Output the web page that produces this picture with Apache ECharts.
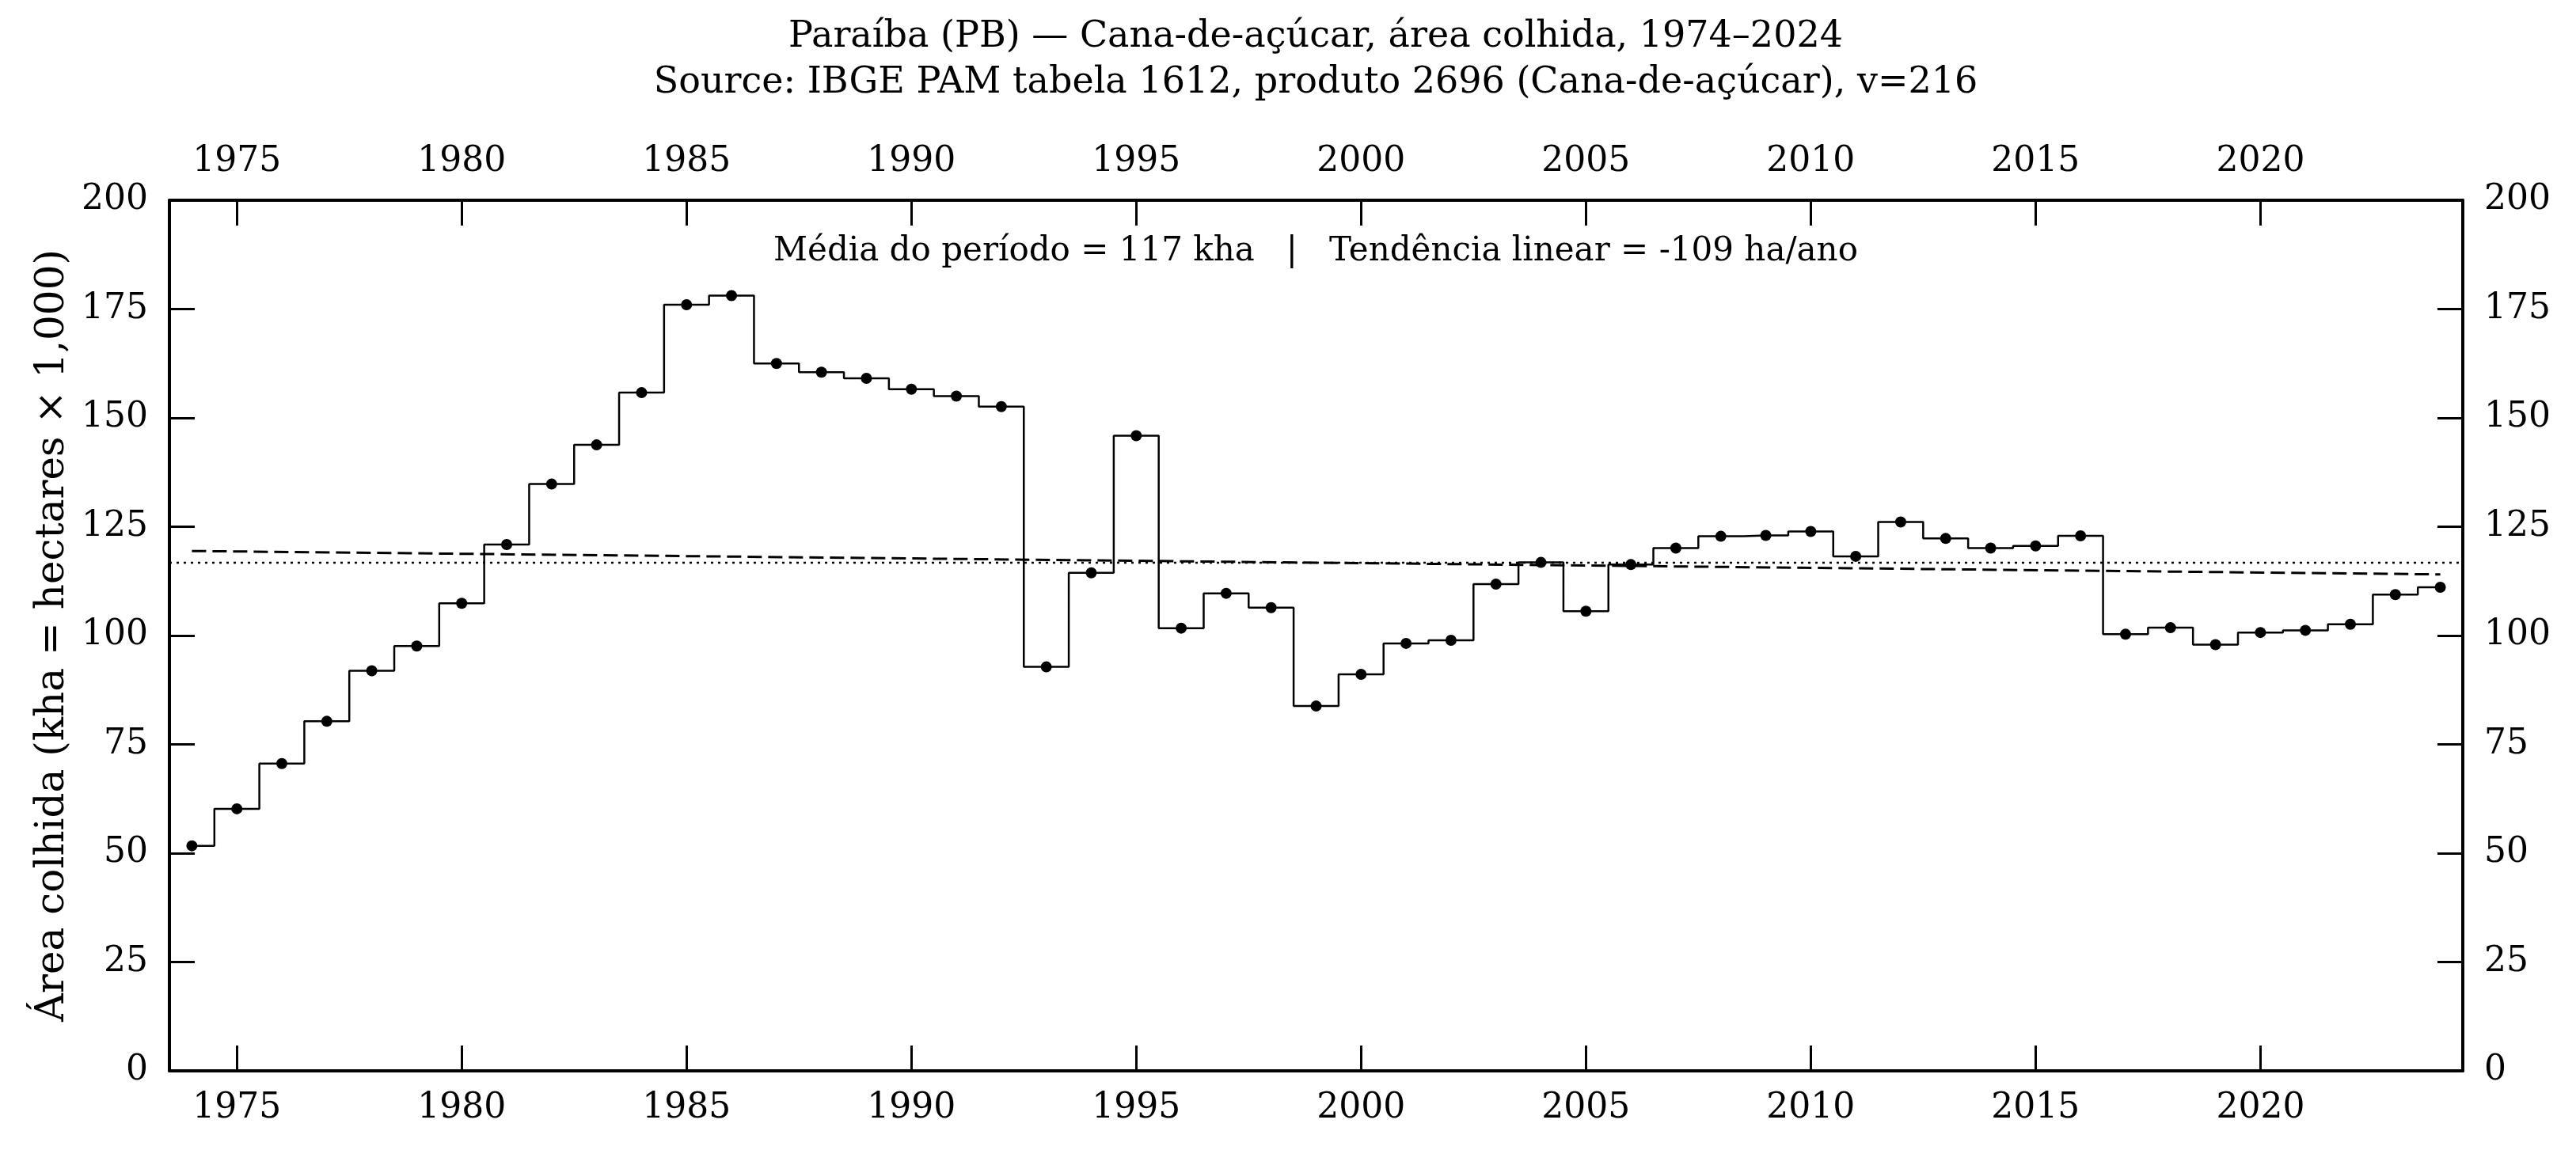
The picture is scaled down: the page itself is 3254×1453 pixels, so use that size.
<!DOCTYPE html>
<html>
<head>
<meta charset="utf-8">
<script src="https://cdn.jsdelivr.net/npm/echarts@6/dist/echarts.min.js"></script>
<style>
  html, body { margin: 0; padding: 0; background: #fff; }
  #chart { width: 3254px; height: 1453px; }
</style>
</head>
<body>
<div id="chart"></div>
<script>
// area harvested, thousand ha
const years = [];
for (let y = 1974; y <= 2024; y++) years.push(y);
const areaKha = [
  51.7, 60.2, 70.6, 80.3, 91.9, 97.6, 107.4, 120.9, 134.8, 143.8,
  155.8, 176.0, 178.1, 162.5, 160.5, 159.1, 156.6, 155.0, 152.6, 92.8,
  114.4, 145.9, 101.7, 109.7, 106.4, 83.8, 91.1, 98.2, 98.9, 111.8,
  116.8, 105.6, 116.3, 120.1, 122.8, 123.0, 123.9, 118.2, 126.1, 122.3,
  120.1, 120.6, 122.9, 100.3, 101.8, 97.9, 100.7, 101.2, 102.6, 109.4,
  111.1
];
const xTicks = [1975, 1980, 1985, 1990, 1995, 2000, 2005, 2010, 2015, 2020];
const xMin = 1973.5, xMax = 2024.5;

const titleLines = [
  'Paraíba (PB) — Cana-de-açúcar, área colhida, 1974–2024',
  'Source: IBGE PAM tabela 1612, produto 2696 (Cana-de-açúcar), v=216'
];
const noteText = 'Média do período = 117 kha   |   Tendência linear = -109 ha/ano';
const yName = 'Área colhida (kha = hectares × 1,000)';

// mean and least-squares trend
const n = years.length;
const mx = years.reduce((a, b) => a + b, 0) / n;
const my = areaKha.reduce((a, b) => a + b, 0) / n;
let sxy = 0, sxx = 0;
for (let i = 0; i < n; i++) {
  sxy += (years[i] - mx) * (areaKha[i] - my);
  sxx += (years[i] - mx) * (years[i] - mx);
}
const slope = sxy / sxx;
const trendAt = x => my + slope * (x - mx);

const FONT = 'DejaVu Serif';
const tickFont = { fontFamily: FONT, fontSize: 44, color: '#000' };

const chart = echarts.init(document.getElementById('chart'), null, { renderer: 'canvas' });

const xAxisBase = {
  type: 'value', min: xMin, max: xMax,
  axisLine: { show: true, onZero: false, lineStyle: { color: '#000', width: 4 } },
  axisTick: { show: true, inside: true, length: 32, customValues: xTicks, lineStyle: { color: '#000', width: 3 } },
  axisLabel: Object.assign({ customValues: xTicks, margin: 26, formatter: v => String(v) }, tickFont),
  splitLine: { show: false }
};
const yAxisBase = {
  type: 'value', min: 0, max: 200, interval: 25,
  axisLine: { show: true, onZero: false, lineStyle: { color: '#000', width: 4 } },
  axisTick: { show: true, inside: true, length: 32, lineStyle: { color: '#000', width: 3 } },
  axisLabel: Object.assign({ margin: 27 }, tickFont),
  splitLine: { show: false }
};

chart.setOption({
  animation: false,
  backgroundColor: '#fff',
  grid: { left: 214, right: 143, top: 253, bottom: 100 },
  xAxis: [
    Object.assign({}, xAxisBase, { position: 'bottom' }),
    Object.assign({}, xAxisBase, { position: 'top' })
  ],
  yAxis: [
    Object.assign({}, yAxisBase, {
      position: 'left',
      name: yName, nameLocation: 'middle', nameGap: 120,
      nameTextStyle: { fontFamily: FONT, fontSize: 50, color: '#000' }
    }),
    Object.assign({}, yAxisBase, { position: 'right' })
  ],
  graphic: [
    { type: 'text', x: 1662, y: 47, style: { text: titleLines[0], fontFamily: FONT, fontSize: 46, fill: '#000', align: 'center', verticalAlign: 'middle' } },
    { type: 'text', x: 1662, y: 105, style: { text: titleLines[1], fontFamily: FONT, fontSize: 46, fill: '#000', align: 'center', verticalAlign: 'middle' } },
    { type: 'text', x: 1662, y: 318, style: { text: noteText, fontFamily: FONT, fontSize: 42, fill: '#000', align: 'center', verticalAlign: 'middle' } }
  ],
  series: [
    {
      name: 'mean', type: 'line', symbol: 'none', silent: true,
      data: [[xMin, my], [xMax, my]],
      lineStyle: { color: '#000', width: 2.5, type: [3, 6] }, z: 2
    },
    {
      name: 'trend', type: 'line', symbol: 'none', silent: true,
      data: [[years[0], trendAt(years[0])], [years[n - 1], trendAt(years[n - 1])]],
      lineStyle: { color: '#000', width: 3, type: [18, 8] }, z: 2
    },
    {
      name: 'area', type: 'line', step: 'middle',
      data: years.map((y, i) => [y, areaKha[i]]),
      symbol: 'circle', symbolSize: 14, showAllSymbol: true,
      itemStyle: { color: '#000' },
      lineStyle: { color: '#000', width: 2.5 }, z: 3
    }
  ]
});
</script>
</body>
</html>
